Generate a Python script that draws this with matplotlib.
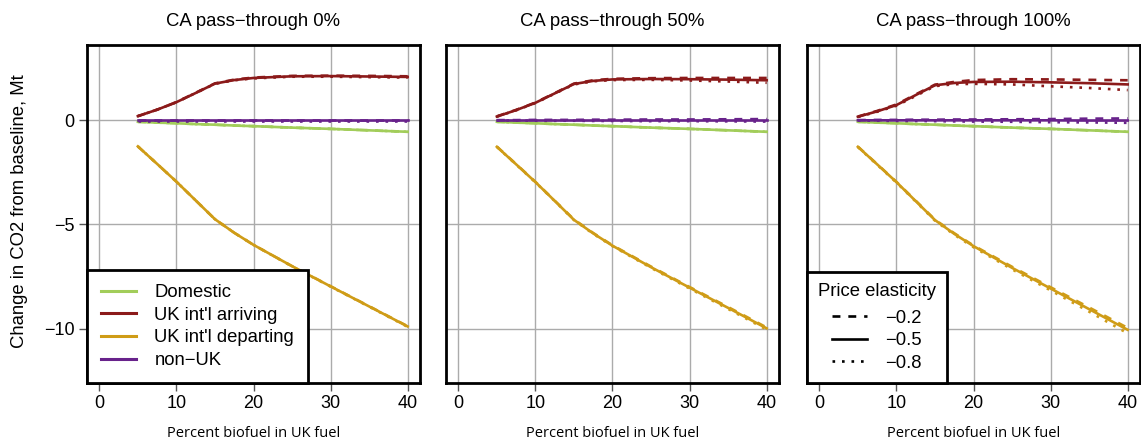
import numpy as np
import matplotlib
matplotlib.use("Agg")
import matplotlib.pyplot as plt
from matplotlib.lines import Line2D

plt.rcParams['font.family'] = ['Liberation Sans', 'DejaVu Sans']

pct_bio = [5, 7.5, 10, 12.5, 15, 17.5, 20, 25, 30, 35, 40]
panel_titles = ["CA pass\u2212through 0%", "CA pass\u2212through 50%", "CA pass\u2212through 100%"]
elasticities = ["\u22120.2", "\u22120.5", "\u22120.8"]
series_names = ["Domestic", "UK int'l arriving", "UK int'l departing", "non\u2212UK"]

# change in CO2 (Mt); each series: [panel][elasticity -0.2, -0.5, -0.8]
domestic = [-0.08, -0.12, -0.15, -0.19, -0.22, -0.26, -0.29, -0.36, -0.42, -0.49, -0.56]

arriving = [
    [[0.19, 0.50, 0.86, 1.31, 1.76, 1.94, 2.04, 2.12, 2.13, 2.12, 2.10],
     [0.19, 0.50, 0.86, 1.30, 1.75, 1.92, 2.02, 2.10, 2.11, 2.09, 2.07],
     [0.19, 0.50, 0.86, 1.30, 1.74, 1.91, 2.00, 2.08, 2.08, 2.06, 2.04]],
    [[0.18, 0.49, 0.84, 1.29, 1.75, 1.91, 1.98, 2.01, 2.02, 2.02, 2.02],
     [0.17, 0.48, 0.83, 1.28, 1.73, 1.88, 1.95, 1.97, 1.96, 1.94, 1.91],
     [0.17, 0.47, 0.82, 1.27, 1.71, 1.86, 1.92, 1.93, 1.90, 1.85, 1.79]],
    [[0.17, 0.44, 0.75, 1.23, 1.70, 1.83, 1.92, 1.96, 1.95, 1.93, 1.91],
     [0.16, 0.42, 0.72, 1.20, 1.67, 1.78, 1.83, 1.84, 1.81, 1.77, 1.71],
     [0.15, 0.40, 0.69, 1.16, 1.63, 1.72, 1.74, 1.71, 1.62, 1.54, 1.44]],
]

departing = [
    [[-1.26, -2.10, -2.95, -3.85, -4.75, -5.40, -5.98, -7.00, -7.96, -8.92, -9.88],
     [-1.26, -2.10, -2.95, -3.85, -4.75, -5.40, -5.98, -7.00, -7.97, -8.93, -9.89],
     [-1.26, -2.10, -2.95, -3.85, -4.75, -5.40, -5.98, -7.01, -7.98, -8.94, -9.91]],
    [[-1.27, -2.11, -2.96, -3.86, -4.76, -5.41, -6.00, -7.02, -8.00, -8.96, -9.94],
     [-1.28, -2.12, -2.97, -3.87, -4.78, -5.43, -6.02, -7.05, -8.03, -9.00, -9.98],
     [-1.28, -2.13, -2.98, -3.88, -4.79, -5.45, -6.04, -7.08, -8.07, -9.05, -10.04]],
    [[-1.27, -2.11, -2.96, -3.86, -4.77, -5.42, -6.01, -7.03, -8.01, -8.98, -9.96],
     [-1.28, -2.12, -2.97, -3.88, -4.79, -5.45, -6.04, -7.08, -8.07, -9.06, -10.05],
     [-1.29, -2.14, -2.99, -3.90, -4.82, -5.49, -6.09, -7.15, -8.16, -9.18, -10.22]],
]

non_uk = [
    [[0.00, 0.00, 0.00, 0.00, 0.00, 0.00, 0.00, 0.00, 0.00, 0.00, 0.00],
     [-0.01, -0.01, -0.01, -0.01, -0.01, -0.01, -0.01, -0.01, -0.01, -0.01, -0.01],
     [-0.02, -0.02, -0.02, -0.02, -0.02, -0.02, -0.02, -0.02, -0.02, -0.02, -0.02]],
    [[0.00, 0.00, 0.01, 0.01, 0.01, 0.02, 0.02, 0.03, 0.03, 0.04, 0.05],
     [-0.01, -0.01, -0.01, -0.01, -0.01, -0.01, -0.01, -0.01, -0.01, -0.01, -0.01],
     [-0.02, -0.02, -0.03, -0.03, -0.03, -0.04, -0.04, -0.05, -0.05, -0.06, -0.07]],
    [[0.00, 0.01, 0.01, 0.02, 0.02, 0.03, 0.03, 0.04, 0.05, 0.07, 0.08],
     [-0.01, -0.01, -0.01, -0.01, -0.01, -0.01, -0.01, -0.01, -0.01, -0.02, -0.02],
     [-0.02, -0.03, -0.04, -0.04, -0.05, -0.06, -0.07, -0.08, -0.10, -0.11, -0.13]],
]

colors = ["#a2cd5a", "#8b1a1a", "#cf9c17", "#68228b"]
lw = 1.9
styles = [dict(linestyle=(0, (3, 3))), dict(linestyle='-'), dict(linestyle=(0, (1, 2.6)))]
fs = 13.3

fig = plt.figure(figsize=(11.41, 4.43), dpi=100)
lefts = [87, 446, 807]
axes = []
for p in range(3):
    ax = fig.add_axes([lefts[p] / 1141, 60 / 443, 333 / 1141, 338 / 443])
    axes.append(ax)
    ax.set_xlim(-1.6, 41.6)
    ax.set_ylim(-12.6, 3.6)
    ax.set_xticks([0, 10, 20, 30, 40])
    ax.set_yticks([-10, -5, 0])
    ax.grid(True, color="#ababab", linewidth=1.0)
    ax.set_axisbelow(True)
    for sp in ax.spines.values():
        sp.set_linewidth(2.0)
        sp.set_color("black")
    ax.tick_params(axis='both', labelsize=13, length=6, width=1, color="#555555", pad=3)
    if p > 0:
        ax.tick_params(axis='y', left=False, labelleft=False)
    ax.set_title(panel_titles[p], fontsize=fs, pad=14)
    ax.set_xlabel("Percent biofuel in UK fuel", fontsize=10.5, family=['Open Sans', 'DejaVu Sans'], labelpad=10)

    for e in range(3):
        ax.plot(pct_bio, domestic, color=colors[0], lw=lw, **styles[e])
    for e in range(3):
        ax.plot(pct_bio, arriving[p][e], color=colors[1], lw=lw, **styles[e])
    for e in range(3):
        ax.plot(pct_bio, departing[p][e], color=colors[2], lw=lw, **styles[e])
    for e in range(3):
        ax.plot(pct_bio, non_uk[p][e], color=colors[3], lw=lw, **styles[e])

axes[0].yaxis.set_major_formatter(matplotlib.ticker.FuncFormatter(
    lambda v, pos: ("\u2212%d" % -v) if v < 0 else "%d" % v))

# series legend
handles = [Line2D([], [], color=c, lw=2.2) for c in colors]
leg = axes[0].legend(handles, series_names, loc='lower left', bbox_to_anchor=(0, 0),
                     borderaxespad=0, fontsize=fs, frameon=True, fancybox=False,
                     handlelength=1.9, handletextpad=1.0, labelspacing=0.31,
                     borderpad=0.75)
leg.get_frame().set_edgecolor("black")
leg.get_frame().set_linewidth(2.0)
leg.get_frame().set_alpha(1)

# elasticity legend
handles2 = [Line2D([], [], color="black", lw=lw, **s) for s in styles]
leg2 = axes[2].legend(handles2, elasticities, title="Price elasticity", loc='lower left',
                      bbox_to_anchor=(0, 0), borderaxespad=0, fontsize=fs,
                      title_fontsize=fs, frameon=True, fancybox=False,
                      handlelength=1.9, handletextpad=1.0, labelspacing=0.3,
                      borderpad=0.6)
leg2._legend_box.sep = 0.55 * fs
leg2.get_frame().set_edgecolor("black")
leg2.get_frame().set_linewidth(2.0)
leg2.get_frame().set_alpha(1)

fig.text(0.017, 1 - 211 / 443, "Change in CO2 from baseline, Mt", rotation=90,
         va='center', ha='center', fontsize=fs)

fig.savefig("out.png", dpi=100)
